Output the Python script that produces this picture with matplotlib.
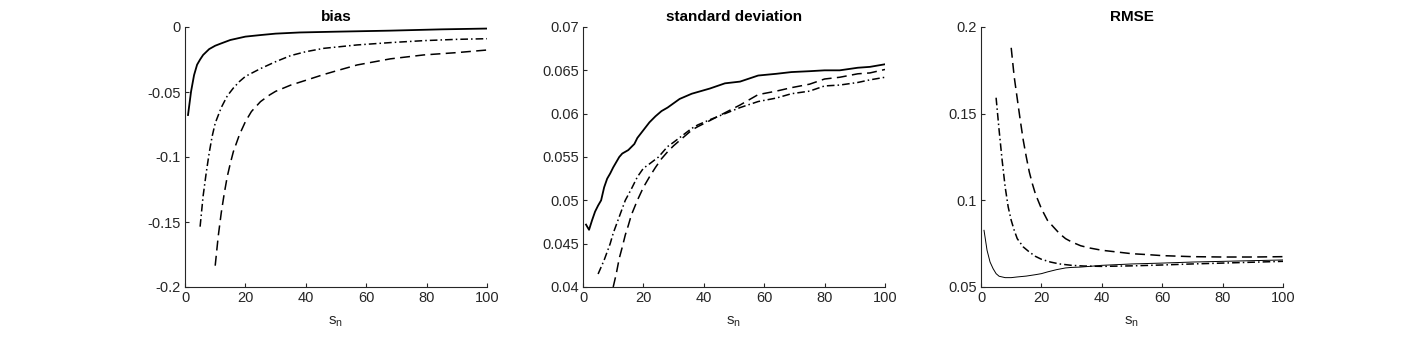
import matplotlib.pyplot as plt

plt.rcParams['font.family'] = ['Liberation Sans', 'DejaVu Sans']
plt.rcParams['mathtext.fontset'] = 'custom'
plt.rcParams['mathtext.rm'] = 'Liberation Sans'
plt.rcParams['mathtext.it'] = 'Liberation Sans'

AX_COLOR = '#262626'

# ---- bias ----
bias_solid_x = [1, 2, 3, 4, 5, 6, 8, 10, 12, 15, 20, 25, 30, 38, 50, 68, 85, 100]
bias_solid_y = [-0.0677, -0.0497, -0.037, -0.029, -0.025, -0.0215, -0.017,
                -0.0144, -0.0126, -0.010, -0.0074, -0.0062, -0.0051, -0.0042,
                -0.0036, -0.0028, -0.0018, -0.0012]
bias_dd_x = [5, 6, 7, 8, 9, 10, 12, 14, 16, 18, 20, 25, 30, 35, 40, 46, 57,
             68, 79, 90, 100]
bias_dd_y = [-0.1536, -0.130, -0.1126, -0.097, -0.084, -0.074, -0.062, -0.053,
             -0.047, -0.042, -0.038, -0.032, -0.0267, -0.022, -0.019, -0.0164,
             -0.0138, -0.012, -0.0105, -0.0095, -0.009]
bias_dash_x = [10, 11, 12, 13, 14, 15, 16, 18, 20, 22, 25, 28, 30, 35, 40, 46,
               50, 57, 68, 79, 90, 100]
bias_dash_y = [-0.1836, -0.161, -0.143, -0.128, -0.115, -0.105, -0.096, -0.083,
               -0.0728, -0.065, -0.0574, -0.0523, -0.0495, -0.0447, -0.041,
               -0.0365, -0.0338, -0.0292, -0.0245, -0.0215, -0.0197, -0.0177]

# ---- standard deviation ----
sd_solid_x = [1, 2, 3, 4, 5, 6, 7, 8, 9, 10, 11, 12, 13, 15, 17, 18, 20, 22,
              24, 26, 28, 30, 32, 34, 36, 38, 42, 47, 52, 58, 64, 69, 75, 80,
              85, 91, 95, 100]
sd_solid_y = [0.0472, 0.0466, 0.0477, 0.0487, 0.0494, 0.0500, 0.0515, 0.0525,
              0.0531, 0.0538, 0.0544, 0.0550, 0.0554, 0.0558, 0.0565, 0.0572,
              0.0581, 0.0590, 0.0597, 0.0603, 0.0607, 0.0612, 0.0617, 0.0620,
              0.0623, 0.0625, 0.0629, 0.0635, 0.0637, 0.0644, 0.0646, 0.0648,
              0.0649, 0.0650, 0.0650, 0.0653, 0.0654, 0.0657]
sd_dd_x = [5, 7, 9, 10, 12, 14, 16, 18, 20, 22, 25, 28, 30, 33, 36, 38, 42,
           47, 52, 58, 64, 69, 75, 80, 85, 91, 95, 100]
sd_dd_y = [0.0415, 0.0431, 0.0450, 0.0462, 0.0481, 0.0500, 0.0513, 0.0527,
           0.0537, 0.0542, 0.0550, 0.0562, 0.0567, 0.0575, 0.0583, 0.0587,
           0.0593, 0.0600, 0.0607, 0.0614, 0.0618, 0.0623, 0.0626, 0.0632,
           0.0633, 0.0636, 0.0639, 0.0642]
sd_dash_x = [10, 11, 12, 13, 14, 15, 16, 18, 20, 22, 24, 26, 28, 30, 33, 36,
             38, 42, 47, 52, 58, 64, 69, 75, 80, 85, 91, 95, 100]
sd_dash_y = [0.0400, 0.0415, 0.0433, 0.0446, 0.0460, 0.0471, 0.0483, 0.0500,
             0.0515, 0.0527, 0.0538, 0.0548, 0.0556, 0.0563, 0.0572, 0.0581,
             0.0585, 0.0592, 0.0601, 0.0610, 0.0622, 0.0626, 0.0630, 0.0634,
             0.0640, 0.0642, 0.0646, 0.0647, 0.0651]

# ---- RMSE ----
rmse_solid_x = [1, 2, 3, 4, 5, 6, 8, 10, 12, 15, 18, 20, 22, 25, 28, 30, 33,
                36, 40, 50, 60, 70, 80, 90, 100]
rmse_solid_y = [0.0827, 0.0712, 0.0644, 0.0606, 0.0577, 0.0562, 0.0554,
                0.0554, 0.0558, 0.0563, 0.0571, 0.0577, 0.0587, 0.0600,
                0.0610, 0.0613, 0.0615, 0.0619, 0.0625, 0.0633, 0.0638,
                0.0644, 0.0648, 0.0652, 0.0656]
rmse_dd_x = [5, 6, 7, 8, 9, 10, 11, 12, 14, 16, 18, 20, 23, 26, 30, 34, 40,
             50, 60, 70, 80, 90, 100]
rmse_dd_y = [0.1592, 0.1404, 0.1231, 0.1077, 0.0962, 0.0885, 0.0827, 0.0779,
             0.0731, 0.0702, 0.0677, 0.0660, 0.0644, 0.0633, 0.0625, 0.0621,
             0.0619, 0.0622, 0.0627, 0.0633, 0.0638, 0.0643, 0.0648]
rmse_dash_x = [10, 11, 12, 13, 14, 15, 16, 17, 18, 20, 22, 24, 26, 28, 30, 33,
               36, 40, 45, 50, 55, 60, 70, 80, 90, 100]
rmse_dash_y = [0.1880, 0.1712, 0.1587, 0.1462, 0.1346, 0.1250, 0.1163,
               0.1096, 0.1038, 0.0952, 0.0885, 0.0846, 0.0808, 0.0779,
               0.0760, 0.0738, 0.0725, 0.0712, 0.0702, 0.0692, 0.0687,
               0.0681, 0.0675, 0.0673, 0.0673, 0.0675]

titles = ['bias', 'standard deviation', 'RMSE']
ylims = [(-0.2, 0), (0.04, 0.07), (0.05, 0.2)]
yticks = [[-0.2, -0.15, -0.1, -0.05, 0],
          [0.04, 0.045, 0.05, 0.055, 0.06, 0.065, 0.07],
          [0.05, 0.1, 0.15, 0.2]]
yticklabels = [['-0.2', '-0.15', '-0.1', '-0.05', '0'],
               ['0.04', '0.045', '0.05', '0.055', '0.06', '0.065', '0.07'],
               ['0.05', '0.1', '0.15', '0.2']]
series = [
    [(bias_solid_x, bias_solid_y), (bias_dd_x, bias_dd_y), (bias_dash_x, bias_dash_y)],
    [(sd_solid_x, sd_solid_y), (sd_dd_x, sd_dd_y), (sd_dash_x, sd_dash_y)],
    [(rmse_solid_x, rmse_solid_y), (rmse_dd_x, rmse_dd_y), (rmse_dash_x, rmse_dash_y)],
]
solid_lw = [1.3, 1.3, 0.7]

fig = plt.figure(figsize=(14.17, 3.4), dpi=100)
lefts = [185, 583, 981]
for i in range(3):
    ax = fig.add_axes([lefts[i] / 1417, 53 / 340, 302 / 1417, 260 / 340])
    (sx, sy), (dx, dy), (hx, hy) = series[i]
    ax.plot(sx, sy, color='k', lw=solid_lw[i], ls='-')
    ax.plot(dx, dy, color='k', lw=1.1, ls=(0, (5, 2, 1, 2)))
    ax.plot(hx, hy, color='k', lw=1.1, ls=(0, (6.5, 3.5)))

    ax.set_xlim(0, 100)
    ax.set_ylim(*ylims[i])
    ax.set_xticks([0, 20, 40, 60, 80, 100])
    ax.set_yticks(yticks[i])
    ax.set_yticklabels(yticklabels[i])
    ax.set_title(titles[i], fontsize=11, fontweight='bold', color='k', pad=4)
    ax.set_xlabel(r'$\mathregular{s_n}$', fontsize=11, color=AX_COLOR, labelpad=7)

    for side in ['top', 'right']:
        ax.spines[side].set_visible(False)
    for side in ['left', 'bottom']:
        ax.spines[side].set_color(AX_COLOR)
        ax.spines[side].set_linewidth(0.8)
    ax.tick_params(direction='in', length=3, width=0.8, colors=AX_COLOR,
                   labelsize=10.5, pad=3)

fig.savefig('out.png', dpi=100)
